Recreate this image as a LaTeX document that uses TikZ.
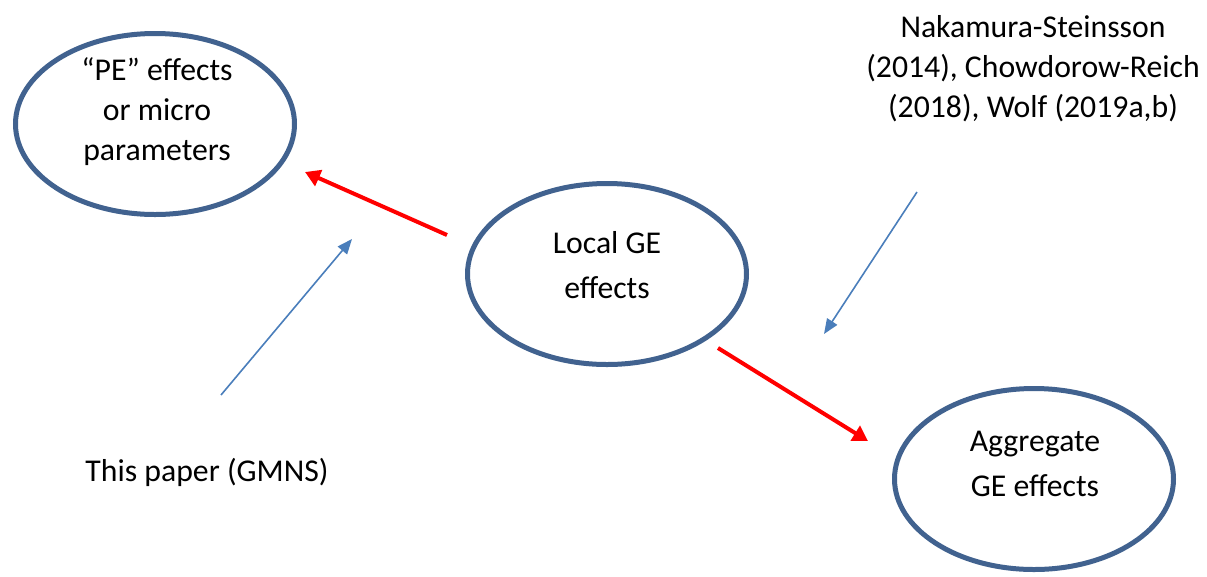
\documentclass[tikz,border=0pt]{standalone}
\usepackage{fontspec}
\setmainfont{Carlito}
\usetikzlibrary{shapes.geometric,arrows.meta}

\newlength{\du}
\setlength{\du}{0.75pt}

\definecolor{ellcolor}{rgb}{0.255, 0.384, 0.561}
\definecolor{bluecolor}{rgb}{0.290, 0.494, 0.733}
\definecolor{redcolor}{rgb}{1.000, 0.000, 0.000}

\tikzset{
  ellnode/.style={ellipse, draw=ellcolor, line width=5\du, inner sep=0pt,
    minimum width=279\du, minimum height=181\du},
  txtnode/.style={anchor=base, align=center, inner sep=0pt,
    font=\fontsize{23.8}{30}\selectfont},
  widetxt/.style={txtnode, font=\fontsize{23.8}{33.5}\selectfont},
  redarrow/.style={draw=redcolor, line width=4\du,
    -{Triangle[length=11.25pt, width=12.75pt]}},
  bluearrow/.style={draw=bluecolor, line width=1.6\du,
    -{Triangle[length=11.25pt, width=9pt]}}
}

\begin{document}
\begin{tikzpicture}[yscale=-1]
\useasboundingbox (0\du,0\du) rectangle (1207\du,576\du);
% ellipses
\node[ellnode] (pe) at (155\du,124\du) {};
\node[ellnode] (local) at (607\du,274\du) {};
\node[ellnode] (aggregate) at (1034\du,479\du) {};
% setfont left to latex (anchor at last baseline)
\node[txtnode] (petext) at (157\du,160\du) {“PE” effects\\or micro\\parameters};
\node[widetxt] (localtext) at (607\du,298\du) {Local GE\\effects};
\node[widetxt] (aggtext) at (1035\du,496\du) {Aggregate\\GE effects};
\node[txtnode] (nakamura) at (1033\du,117\du) {Nakamura-Steinsson\\(2014), Chowdorow-Reich\\(2018), Wolf (2019a,b)};
\node[txtnode] (gmns) at (207\du,481\du) {This paper (GMNS)};
% arrow ends
\coordinate (r1s) at (447\du,235\du);
\coordinate (r1e) at (305\du,172\du);
\coordinate (r2s) at (718\du,348\du);
\coordinate (r2e) at (868\du,441\du);
\coordinate (b1s) at (221\du,395\du);
\coordinate (b1e) at (352\du,239\du);
\coordinate (b2s) at (917\du,192\du);
\coordinate (b2e) at (824\du,334\du);
% arrows
\draw[redarrow] (r1s)--(r1e);
\draw[redarrow] (r2s)--(r2e);
\draw[bluearrow] (b1s)--(b1e);
\draw[bluearrow] (b2s)--(b2e);
\end{tikzpicture}
\end{document}
